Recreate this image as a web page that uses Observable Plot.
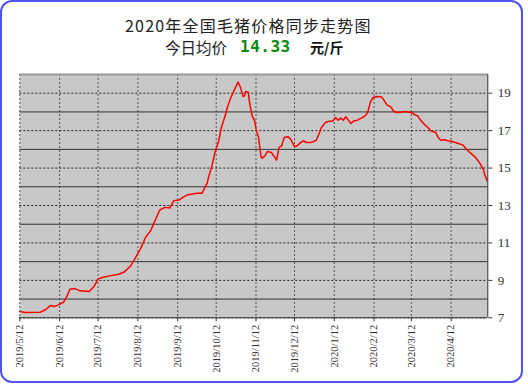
<!DOCTYPE html>
<html><head><meta charset="utf-8">
<script src="https://cdn.jsdelivr.net/npm/d3@7"></script>
<script src="https://cdn.jsdelivr.net/npm/@observablehq/plot@0.6"></script>
<style>
html,body{margin:0;padding:0;background:#fff;}
body{position:relative;width:528px;height:386px;overflow:hidden;}
#wrap{position:absolute;left:0;top:0;width:523px;height:383px;box-sizing:border-box;border:2px solid #5252f2;border-radius:12px;}
.t{position:absolute;white-space:nowrap;font-family:"Noto Sans CJK SC",sans-serif;color:#222;}
#chart{position:absolute;left:0;top:60px;}
</style></head>
<body>
<div id="wrap"></div>
<div class="t" style="left:125px;top:17px;font-size:16px;line-height:16px;letter-spacing:1.2px;">2020年全国毛猪价格同步走势图</div>
<div class="t" style="left:165px;top:39px;font-size:15.5px;line-height:16px;">今日均价</div>
<div class="t" style="left:240px;top:39px;font-size:16px;line-height:16px;color:#0a8a0a;font-weight:bold;font-family:'DejaVu Sans Mono',monospace;letter-spacing:0.5px;">14.33</div>
<div class="t" style="left:310px;top:39px;font-size:14px;line-height:16px;font-weight:bold;color:#111;">元/斤</div>
<div id="chart"></div>
<script>
const dates = ["2019-05-12","2019-05-16","2019-05-28","2019-06-01","2019-06-05","2019-06-08","2019-06-11","2019-06-15","2019-06-18","2019-06-20","2019-06-24","2019-06-28","2019-07-05","2019-07-09","2019-07-12","2019-07-16","2019-07-21","2019-07-28","2019-08-01","2019-08-06","2019-08-10","2019-08-14","2019-08-18","2019-08-22","2019-08-25","2019-08-29","2019-09-02","2019-09-06","2019-09-09","2019-09-13","2019-09-16","2019-09-20","2019-09-27","2019-10-01","2019-10-03","2019-10-05","2019-10-06","2019-10-09","2019-10-11","2019-10-14","2019-10-16","2019-10-19","2019-10-21","2019-10-24","2019-10-27","2019-10-29","2019-10-31","2019-11-02","2019-11-03","2019-11-04","2019-11-06","2019-11-07","2019-11-09","2019-11-11","2019-11-12","2019-11-14","2019-11-16","2019-11-17","2019-11-19","2019-11-21","2019-11-24","2019-11-27","2019-11-28","2019-11-30","2019-12-02","2019-12-04","2019-12-07","2019-12-09","2019-12-12","2019-12-14","2019-12-17","2019-12-19","2019-12-21","2019-12-25","2019-12-29","2019-12-31","2020-01-02","2020-01-05","2020-01-07","2020-01-11","2020-01-13","2020-01-15","2020-01-17","2020-01-19","2020-01-21","2020-01-23","2020-01-25","2020-01-27","2020-01-30","2020-02-02","2020-02-05","2020-02-07","2020-02-09","2020-02-11","2020-02-14","2020-02-18","2020-02-20","2020-02-22","2020-02-25","2020-02-27","2020-02-29","2020-03-02","2020-03-07","2020-03-12","2020-03-15","2020-03-17","2020-03-19","2020-03-22","2020-03-25","2020-03-27","2020-03-31","2020-04-02","2020-04-04","2020-04-07","2020-04-09","2020-04-13","2020-04-17","2020-04-21","2020-04-24","2020-04-26","2020-04-29","2020-05-01","2020-05-04","2020-05-07","2020-05-08","2020-05-10"];
const prices = [7.34,7.28,7.30,7.43,7.66,7.60,7.69,7.83,8.19,8.53,8.56,8.44,8.40,8.69,9.08,9.17,9.24,9.33,9.43,9.74,10.20,10.68,11.30,11.66,12.14,12.76,12.90,12.87,13.26,13.29,13.43,13.58,13.65,13.65,13.95,14.20,14.50,15.21,15.83,16.46,17.17,17.79,18.32,18.86,19.30,19.60,19.30,18.82,18.86,19.09,19.05,18.50,17.79,17.52,17.08,16.63,15.57,15.53,15.66,15.89,15.83,15.53,15.43,16.10,16.19,16.63,16.67,16.55,16.14,16.19,16.37,16.46,16.37,16.37,16.49,16.81,17.17,17.43,17.49,17.52,17.70,17.56,17.67,17.56,17.74,17.56,17.38,17.52,17.56,17.67,17.79,17.97,18.50,18.76,18.82,18.80,18.59,18.38,18.27,18.06,17.97,17.97,18.02,17.97,17.84,17.79,17.58,17.35,17.17,16.99,16.90,16.63,16.49,16.51,16.46,16.42,16.33,16.24,16.01,15.87,15.69,15.57,15.30,14.95,14.68,14.33];
const tickLabels = ["2019/5/12","2019/6/12","2019/7/12","2019/8/12","2019/9/12","2019/10/12","2019/11/12","2019/12/12","2020/1/12","2020/2/12","2020/3/12","2020/4/12"];
const yTicks = [7,9,11,13,15,17,19];
const solidLevels = [8,10,12,14,16,18];
const yMax = 20;
const lastDay = "2020-05-10T14:00:00Z";

const data = dates.map((d, i) => ({date: new Date(d + "T00:00:00Z"), price: prices[i]}));
const tickDates = tickLabels.map(s => { const [y, m, d] = s.split("/").map(Number); return new Date(Date.UTC(y, m - 1, d)); });
const labelFor = d => tickLabels[tickDates.findIndex(t => +t === +d)];
const xEnd = new Date(lastDay);

const chart = Plot.plot({
  width: 528, height: 326,
  marginTop: 14, marginBottom: 68.7, marginLeft: 19.3, marginRight: 40.7,
  x: {type: "utc", domain: [tickDates[0], xEnd], label: null},
  y: {domain: [7, yMax], label: null},
  style: {background: "transparent", fontFamily: "'Liberation Serif', serif", color: "#333"},
  marks: [
    Plot.frame({fill: "#c8c8c8", stroke: null}),
    Plot.ruleX(tickDates, {stroke: "#555", strokeDasharray: "2,2"}),
    Plot.ruleY(yTicks, {stroke: "#222", strokeDasharray: "2,2"}),
    Plot.ruleY(solidLevels, {stroke: "#333"}),
    Plot.ruleY([yMax], {stroke: "#999", strokeWidth: 2}),
    Plot.line(data, {x: "date", y: "price", stroke: "#ff0000", strokeWidth: 1.5}),
    Plot.ruleY([7], {stroke: "#333"}),
    Plot.ruleX([xEnd], {stroke: "#333"}),
    Plot.axisX({ticks: tickDates, tickFormat: labelFor, tickRotate: -90, tickSize: 4, tickPadding: 3, fontSize: 10.5, stroke: "#333", fill: "#333", label: null}),
    Plot.axisY({anchor: "right", ticks: yTicks, tickSize: 4, tickPadding: 6, fontSize: 13, stroke: "#333", fill: "#333", label: null})
  ]
});
document.getElementById("chart").appendChild(chart);
</script>
</body></html>
